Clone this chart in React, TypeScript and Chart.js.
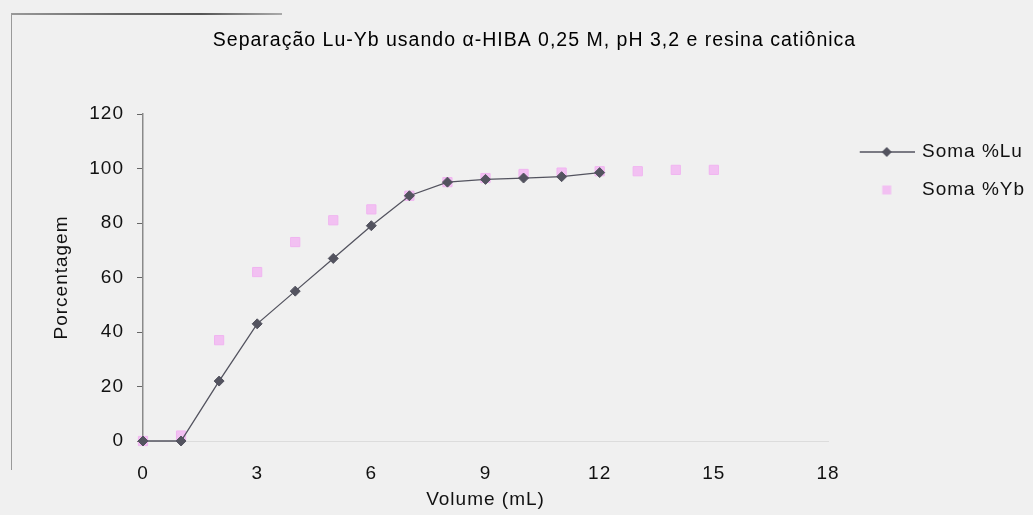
import React, { useEffect, useRef } from 'react';
import { Chart, registerables } from 'chart.js';

Chart.register(...registerables);

const titleText = 'Separação Lu-Yb usando α-HIBA 0,25 M, pH 3,2 e resina catiônica';
const xTitle = 'Volume (mL)';
const yTitle = 'Porcentagem';
const seriesNames = ['Soma %Lu', 'Soma %Yb'];

const volumeLu = [0, 1, 2, 3, 4, 5, 6, 7, 8, 9, 10, 11, 12];
const somaLu = [0, 0, 22, 43, 55, 67, 79, 90, 95, 96, 96.5, 97, 98.5];

const volumeYb = [0, 1, 2, 3, 4, 5, 6, 7, 8, 9, 10, 11, 12, 13, 14, 15];
const somaYb = [0, 2, 37, 62, 73, 81, 85, 90, 95, 96.5, 98, 98.5, 99, 99, 99.5, 99.5];

const xTicks = [0, 3, 6, 9, 12, 15, 18];
const yTicks = [0, 20, 40, 60, 80, 100, 120];

const FONT = "'Liberation Sans', Arial, sans-serif";
const LU_COLOR = '#53535f';
const YB_FILL = 'rgba(242, 180, 242, 0.8)';
const YB_BORDER = '#f0b4f0';
const BG = '#f0f0f0';

function makeSample(kind: 'lu' | 'yb'): HTMLCanvasElement {
  const c = document.createElement('canvas');
  c.width = 70;
  c.height = 14;
  const g = c.getContext('2d')!;
  const cy = 7;
  const cx = 42;
  if (kind === 'lu') {
    g.strokeStyle = LU_COLOR;
    g.lineWidth = 1.3;
    g.beginPath();
    g.moveTo(15, cy);
    g.lineTo(70, cy);
    g.stroke();
    g.fillStyle = LU_COLOR;
    g.beginPath();
    g.moveTo(cx, cy - 5);
    g.lineTo(cx + 5, cy);
    g.lineTo(cx, cy + 5);
    g.lineTo(cx - 5, cy);
    g.closePath();
    g.fill();
  } else {
    g.fillStyle = YB_FILL;
    g.fillRect(cx - 4.5, cy - 4.5, 9, 9);
  }
  return c;
}

const spacingPlugin = {
  id: 'letterSpacing',
  beforeLayout(chart: any) {
    chart.ctx.letterSpacing = '1px';
  },
  beforeDraw(chart: any) {
    chart.ctx.letterSpacing = '1px';
  },
};

export default function App() {
  const canvasRef = useRef<HTMLCanvasElement | null>(null);

  useEffect(() => {
    document.body.style.margin = '0';
    document.body.style.background = BG;
    if (!canvasRef.current) return;
    const samples = [makeSample('lu'), makeSample('yb')];
    const chart = new Chart(canvasRef.current, {
      type: 'line',
      data: {
        datasets: [
          {
            label: seriesNames[0],
            data: volumeLu.map((v, i) => ({ x: v, y: somaLu[i] })),
            borderColor: LU_COLOR,
            backgroundColor: LU_COLOR,
            borderWidth: 1.3,
            pointStyle: 'rectRot',
            pointRadius: 5,
            pointBackgroundColor: LU_COLOR,
            pointBorderColor: LU_COLOR,
            pointBorderWidth: 1,
            showLine: true,
            tension: 0,
            clip: false,
          },
          {
            label: seriesNames[1],
            data: volumeYb.map((v, i) => ({ x: v, y: somaYb[i] })),
            borderColor: YB_BORDER,
            backgroundColor: YB_FILL,
            showLine: false,
            pointStyle: 'rect',
            pointRadius: 6.5,
            pointBackgroundColor: YB_FILL,
            pointBorderColor: YB_BORDER,
            pointBorderWidth: 1,
            clip: false,
          },
        ],
      },
      options: {
        animation: false,
        responsive: true,
        maintainAspectRatio: false,
        layout: { padding: { left: 36, right: 0, top: 0, bottom: 0 } },
        scales: {
          x: {
            type: 'linear',
            min: xTicks[0],
            max: xTicks[xTicks.length - 1],
            afterBuildTicks: (scale: any) => {
              scale.ticks = xTicks.map((v) => ({ value: v }));
            },
            afterFit: (scale: any) => {
              scale.height = 74;
            },
            grid: { display: false, drawTicks: false },
            border: { display: true, color: '#dcdcdc', width: 1 },
            ticks: {
              padding: 21.6,
              color: '#111',
              font: { family: FONT, size: 19 },
              maxRotation: 0,
            },
            title: {
              display: true,
              text: xTitle,
              color: '#111',
              font: { family: FONT, size: 19 },
              padding: { top: 0, bottom: 3.6 },
            },
          },
          y: {
            type: 'linear',
            min: yTicks[0],
            max: yTicks[yTicks.length - 1],
            afterBuildTicks: (scale: any) => {
              scale.ticks = yTicks.map((v) => ({ value: v }));
            },
            afterFit: (scale: any) => {
              scale.width = 107;
            },
            grid: {
              display: true,
              drawOnChartArea: false,
              drawTicks: true,
              tickLength: 6,
              color: '#666',
              lineWidth: 1,
            },
            border: { display: true, color: '#8a8a8a', width: 1.5 },
            ticks: {
              padding: 13,
              color: '#111',
              font: { family: FONT, size: 19 },
            },
            title: {
              display: true,
              text: yTitle,
              color: '#111',
              font: { family: FONT, size: 19 },
              padding: { top: 14.6, bottom: 0 },
            },
          },
        },
        plugins: {
          title: {
            display: true,
            text: titleText,
            color: '#000',
            font: { family: FONT, size: 19.5, weight: 'normal' },
            padding: { top: 29.3, bottom: 61.3 },
          },
          legend: {
            display: true,
            position: 'right',
            align: 'start',
            fullSize: false,
            maxWidth: 205,
            title: {
              display: true,
              text: ' ',
              font: { size: 5 },
              padding: { top: 3.5, bottom: 0 },
            },
            labels: {
              usePointStyle: true,
              pointStyleWidth: 65.5,
              padding: 19,
              color: '#111',
              font: { family: FONT, size: 19 },
              generateLabels: (ch: any) => {
                const items = (Chart.defaults.plugins.legend.labels as any).generateLabels(ch);
                items.forEach((it: any, i: number) => {
                  it.pointStyle = samples[i];
                });
                return items;
              },
            },
          },
          tooltip: { enabled: false },
        },
      } as any,
      plugins: [spacingPlugin],
    });
    return () => chart.destroy();
  }, []);

  return (
    <div
      style={{
        width: '1033px',
        height: '515px',
        position: 'relative',
        background: BG,
      }}
    >
      <div
        style={{
          position: 'absolute',
          left: '12px',
          top: '13px',
          width: '270px',
          height: '2px',
          background: 'linear-gradient(to right, #999, #666 40%, #555 70%, #aaa)',
        }}
      />
      <div
        style={{
          position: 'absolute',
          left: '11px',
          top: '13px',
          width: '1px',
          height: '457px',
          background: '#9a9a9a',
        }}
      />
      <canvas ref={canvasRef} style={{ position: 'absolute', left: 0, top: 0 }} />
    </div>
  );
}
